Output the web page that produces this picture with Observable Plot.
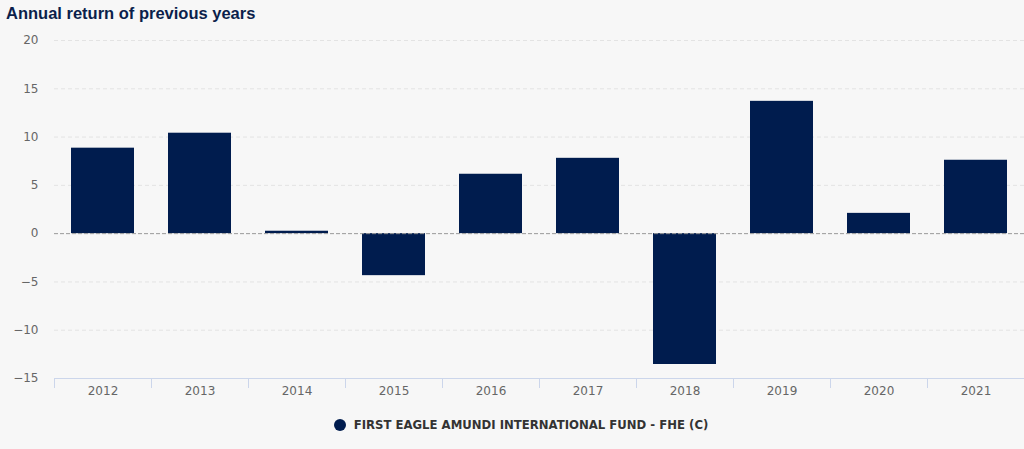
<!DOCTYPE html>
<html><head><meta charset="utf-8">
<script src="https://cdn.jsdelivr.net/npm/d3@7"></script>
<script src="https://cdn.jsdelivr.net/npm/@observablehq/plot@0.6"></script>
<style>
body{margin:0;background:#f7f7f7;width:1024px;height:449px;overflow:hidden;font-family:"Liberation Sans",Arial,sans-serif;}
#title{height:28px;line-height:26px;padding-left:6px;font-weight:bold;font-size:16.5px;color:#0b1f4b;}
#legend{height:49px;display:flex;align-items:center;justify-content:center;padding-left:18px;box-sizing:border-box;font-family:"DejaVu Sans",sans-serif;font-size:11.7px;font-weight:bold;color:#333;}
#legend .dot{width:12px;height:12px;border-radius:50%;background:#001c4e;margin-right:8px;}
</style></head><body>
<div id="title">Annual return of previous years</div>
<div id="chart"></div>
<div id="legend"><span class="dot"></span><span>FIRST EAGLE AMUNDI INTERNATIONAL FUND - FHE (C)</span></div>
<script>
const years = ["2012","2013","2014","2015","2016","2017","2018","2019","2020","2021"];
const returns = [8.85, 10.4, 0.25, -4.35, 6.15, 7.8, -13.55, 13.7, 2.1, 7.6];
const yTicks = [-15, -10, -5, 0, 5, 10, 15, 20];
const seriesName = "FIRST EAGLE AMUNDI INTERNATIONAL FUND - FHE (C)";

const data = years.map((y, i) => ({year: y, value: returns[i]}));
const W = 1024, H = 372, mL = 54, mR = 0, mT = 12, mB = 22;
const step = (W - mL - mR) / years.length;
const pxPerUnit = (H - mT - mB) / 35;

const chart = Plot.plot({
  width: W, height: H,
  marginLeft: mL, marginRight: mR, marginTop: mT, marginBottom: mB,
  style: {background: "transparent", fontFamily: "DejaVu Sans, sans-serif", fontSize: "12px", color: "#666"},
  x: {type: "band", domain: years, paddingInner: 0.35, paddingOuter: 0.175, label: null, tickSize: 0, tickPadding: 8},
  y: {domain: [-15, 20], ticks: yTicks, label: null, tickSize: 0, tickPadding: 16},
  marks: [
    Plot.ruleY(yTicks.filter(t => t !== 0 && t !== -15), {stroke: "#e3e3e3", strokeDasharray: "4,3"}),
    Plot.barY(data, {x: "year", y: "value", fill: "#001c4e"}),
    Plot.ruleY([0], {stroke: "#999", strokeWidth: 1, strokeDasharray: "4,2"}),
    Plot.ruleY([-15], {stroke: "#ccd6eb"}),
    Plot.ruleX(years, {x: d => d, y1: -15, y2: -15 - 10 / pxPerUnit, dx: -step/2, stroke: "#ccd6eb"})
  ]
});
document.getElementById("chart").appendChild(chart);
</script>
</body></html>
